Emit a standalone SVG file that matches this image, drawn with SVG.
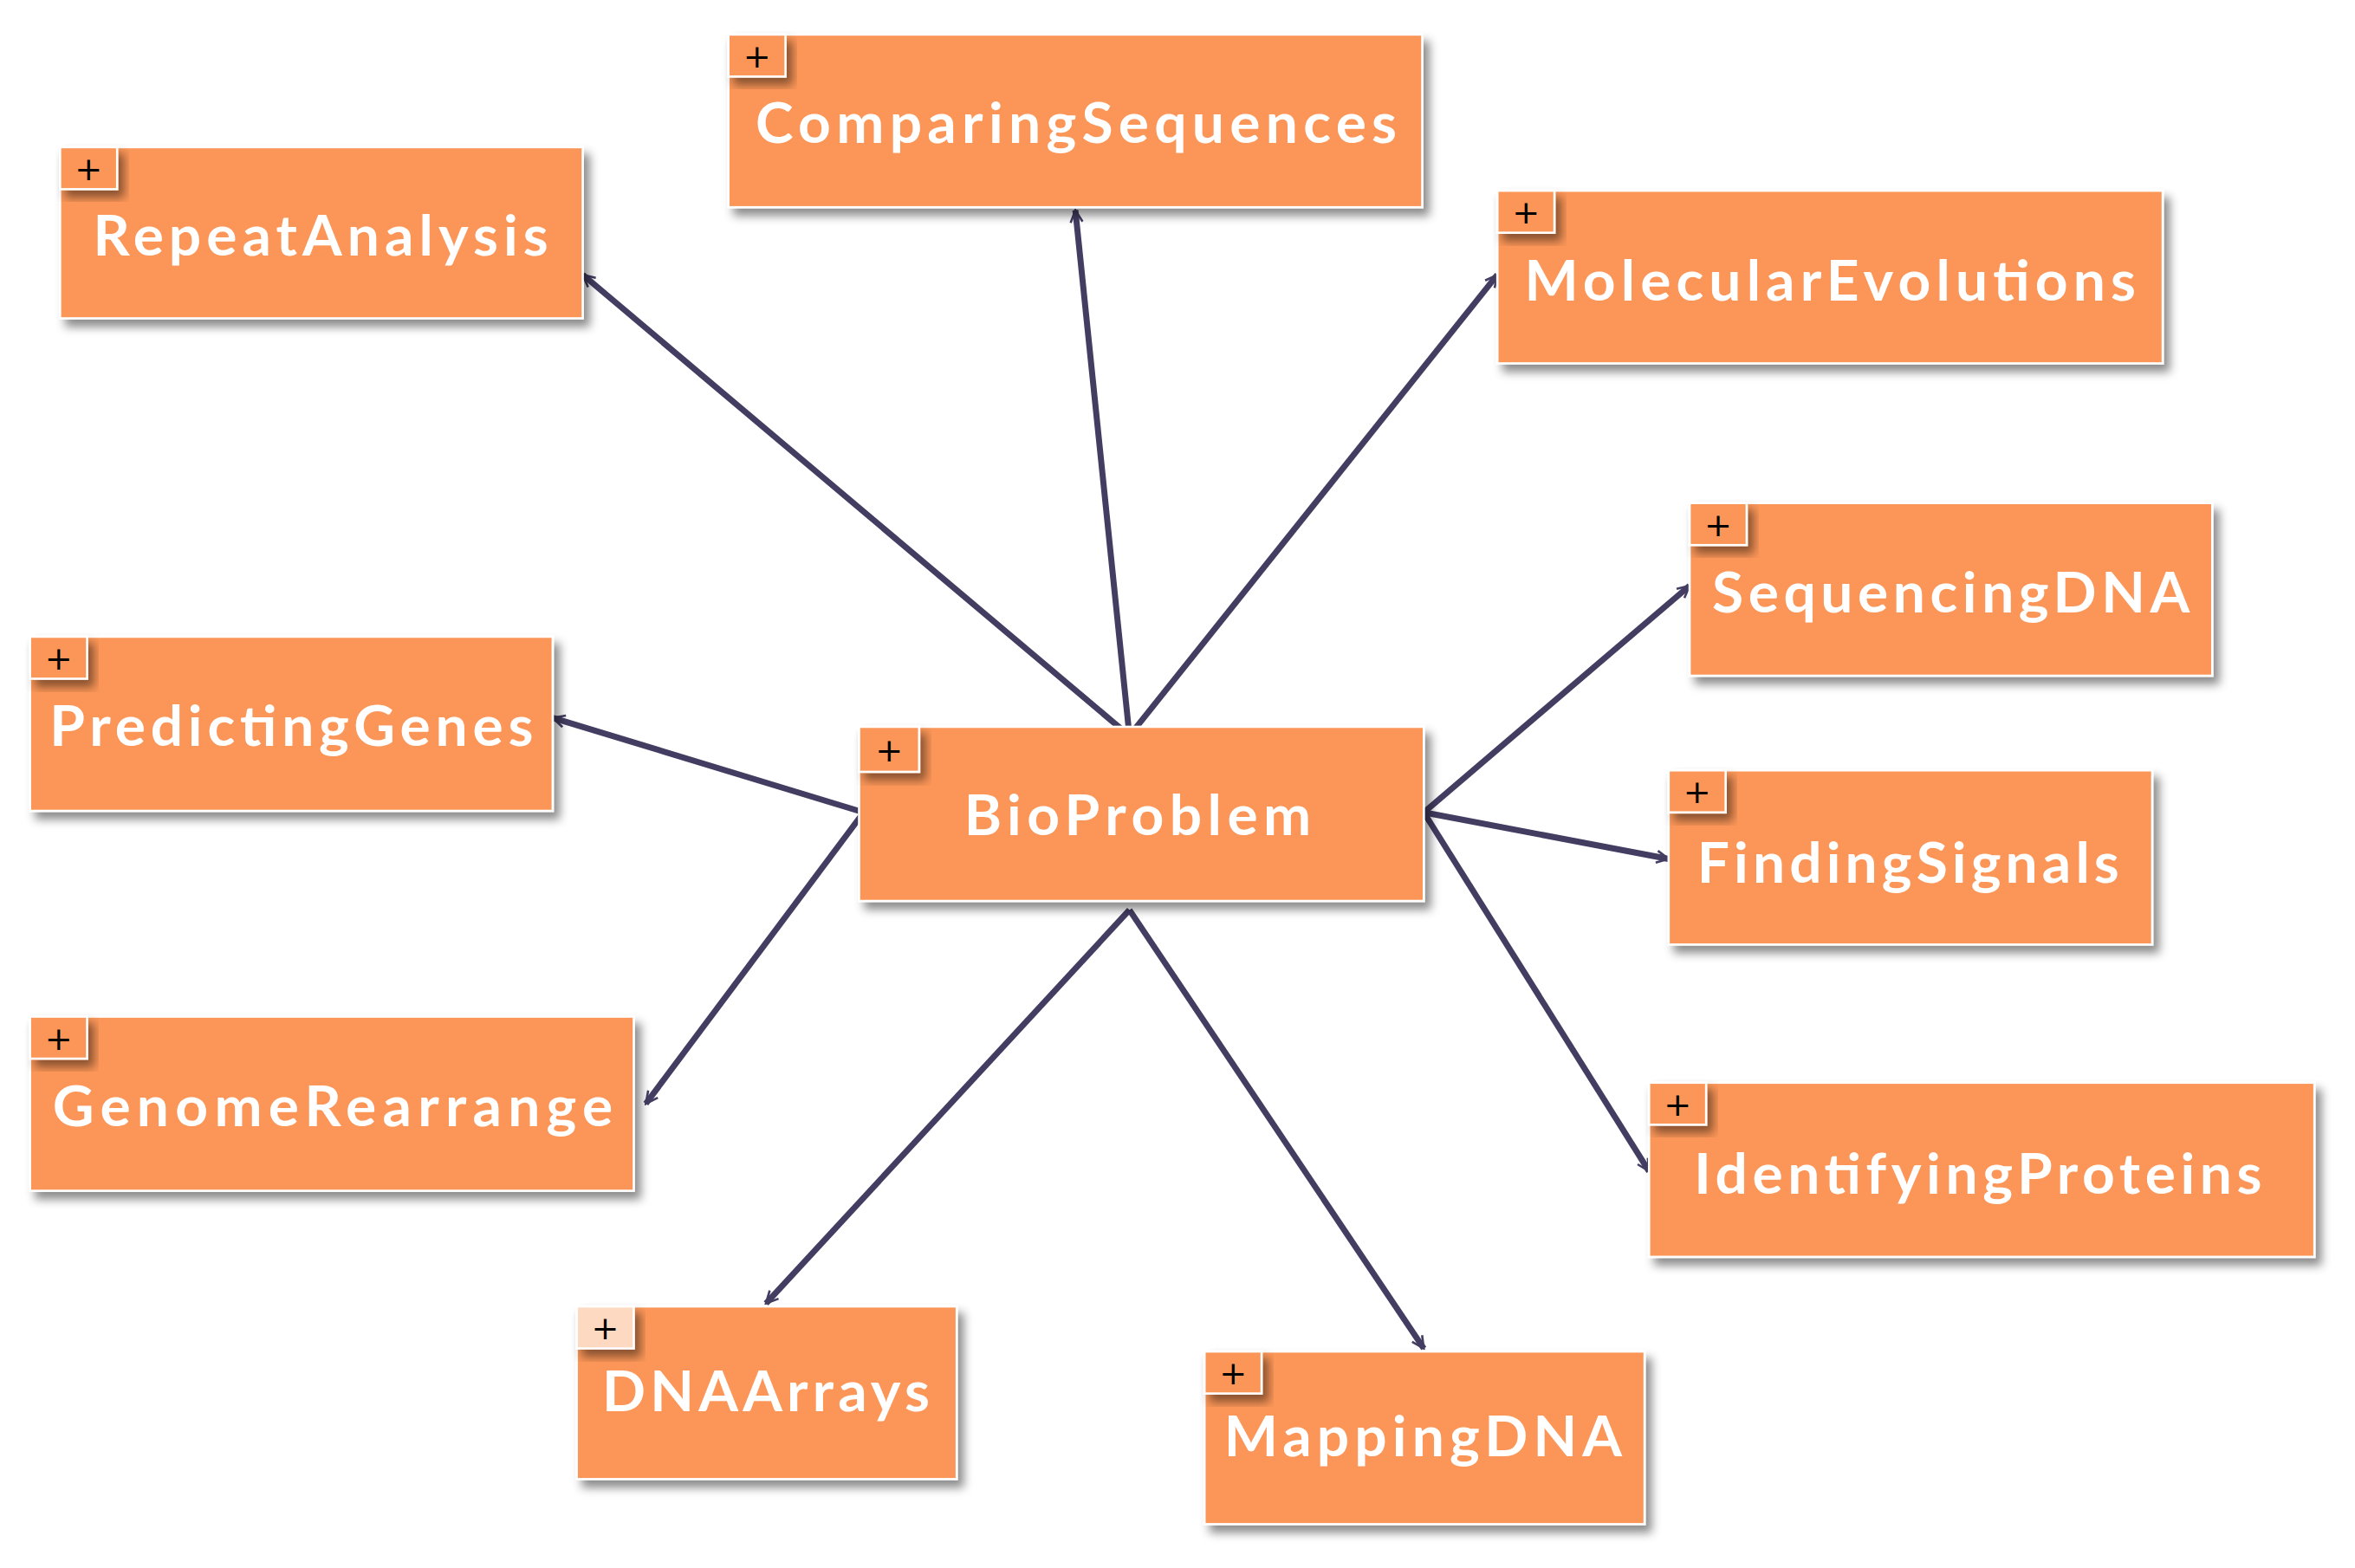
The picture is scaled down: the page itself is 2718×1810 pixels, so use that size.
<svg xmlns="http://www.w3.org/2000/svg" width="2718" height="1810" viewBox="0 0 2718 1810">
<defs>
<filter id="sh" x="-10%" y="-10%" width="130%" height="140%"><feDropShadow dx="4" dy="5" stdDeviation="3" flood-color="#000" flood-opacity="0.45"/></filter>
<marker id="ah" viewBox="0 0 20 20" refX="18" refY="10" markerWidth="10" markerHeight="10" markerUnits="userSpaceOnUse" orient="auto"><path d="M2,2 L18,10 L2,18" fill="none" stroke="#433d62" stroke-width="3"/></marker>
<style>
.b{fill:#fb9658;stroke:#fff;stroke-width:1.5;filter:url(#sh)}
.p{fill:#fb9658;stroke:#fff;stroke-width:1.5;filter:url(#sh)}
.pt{font-family:"DejaVu Sans",sans-serif;font-size:22px;fill:#000;text-anchor:middle}
.t{font-family:Lato,"Open Sans",sans-serif;font-size:38px;font-weight:bold;fill:#fff}
.c{stroke:#433d62;stroke-width:4;fill:none}
</style>
</defs>
<rect width="2718" height="1810" fill="#fff"/>
<g transform="scale(1.7334)">
<g id="connectors">
<line class="c" x1="752" y1="490" x2="388" y2="183" marker-end="url(#ah)"/>
<line class="c" x1="752" y1="490" x2="716" y2="140" marker-end="url(#ah)"/>
<line class="c" x1="752" y1="490" x2="997" y2="183" marker-end="url(#ah)"/>
<line class="c" x1="575" y1="541" x2="368" y2="478" marker-end="url(#ah)"/>
<line class="c" x1="575" y1="541" x2="430" y2="735" marker-end="url(#ah)"/>
<line class="c" x1="948" y1="541" x2="1125" y2="390" marker-end="url(#ah)"/>
<line class="c" x1="948" y1="541" x2="1111" y2="572" marker-end="url(#ah)"/>
<line class="c" x1="948" y1="541" x2="1098" y2="780" marker-end="url(#ah)"/>
<line class="c" x1="752" y1="606" x2="510" y2="868" marker-end="url(#ah)"/>
<line class="c" x1="752" y1="606" x2="948" y2="898" marker-end="url(#ah)"/>
</g>
<g id="RepeatAnalysis"><rect class="b" x="40" y="98" width="348" height="114"/><rect class="p" x="40" y="98" width="38" height="28"/><text class="pt" x="59" y="120">+</text><text class="t" x="62" y="170" textLength="303">RepeatAnalysis</text></g>
<g id="ComparingSequences"><rect class="b" x="485" y="23" width="462" height="115"/><rect class="p" x="485" y="23" width="38" height="28"/><text class="pt" x="504" y="45">+</text><text class="t" x="503" y="95" textLength="427">ComparingSequences</text></g>
<g id="MolecularEvolutions"><rect class="b" x="997" y="127" width="443" height="115"/><rect class="p" x="997" y="127" width="38" height="28"/><text class="pt" x="1016" y="149">+</text><text class="t" x="1015" y="200" textLength="407">MolecularEvolutions</text></g>
<g id="SequencingDNA"><rect class="b" x="1125" y="335" width="348" height="115"/><rect class="p" x="1125" y="335" width="38" height="28"/><text class="pt" x="1144" y="357">+</text><text class="t" x="1140" y="408" textLength="318">SequencingDNA</text></g>
<g id="PredictingGenes"><rect class="b" x="20" y="424" width="348" height="116"/><rect class="p" x="20" y="424" width="38" height="28"/><text class="pt" x="39" y="446">+</text><text class="t" x="33" y="497" textLength="322">PredictingGenes</text></g>
<g id="BioProblem"><rect class="b" x="572" y="484" width="376" height="116"/><rect class="p" x="572" y="484" width="40" height="30"/><text class="pt" x="592" y="507">+</text><text class="t" x="642" y="556" textLength="231">BioProblem</text></g>
<g id="FindingSignals"><rect class="b" x="1111" y="513" width="322" height="116"/><rect class="p" x="1111" y="513" width="38" height="28"/><text class="pt" x="1130" y="535">+</text><text class="t" x="1130" y="588" textLength="281">FindingSignals</text></g>
<g id="GenomeRearrange"><rect class="b" x="20" y="677" width="402" height="116"/><rect class="p" x="20" y="677" width="38" height="28"/><text class="pt" x="39" y="699">+</text><text class="t" x="35" y="750" textLength="373">GenomeRearrange</text></g>
<g id="IdentifyingProteins"><rect class="b" x="1098" y="721" width="443" height="116"/><rect class="p" x="1098" y="721" width="38" height="28"/><text class="pt" x="1117" y="743">+</text><text class="t" x="1128" y="795" textLength="378">IdentifyingProteins</text></g>
<g id="DNAArrays"><rect class="b" x="384" y="870" width="253" height="115"/><rect class="p" x="384" y="870" width="38" height="28" style="fill:#fcd9c0"/><text class="pt" x="403" y="892">+</text><text class="t" x="401" y="940" textLength="218">DNAArrays</text></g>
<g id="MappingDNA"><rect class="b" x="802" y="900" width="293" height="115"/><rect class="p" x="802" y="900" width="38" height="28"/><text class="pt" x="821" y="922">+</text><text class="t" x="815" y="970" textLength="265">MappingDNA</text></g>
</g>
</svg>
